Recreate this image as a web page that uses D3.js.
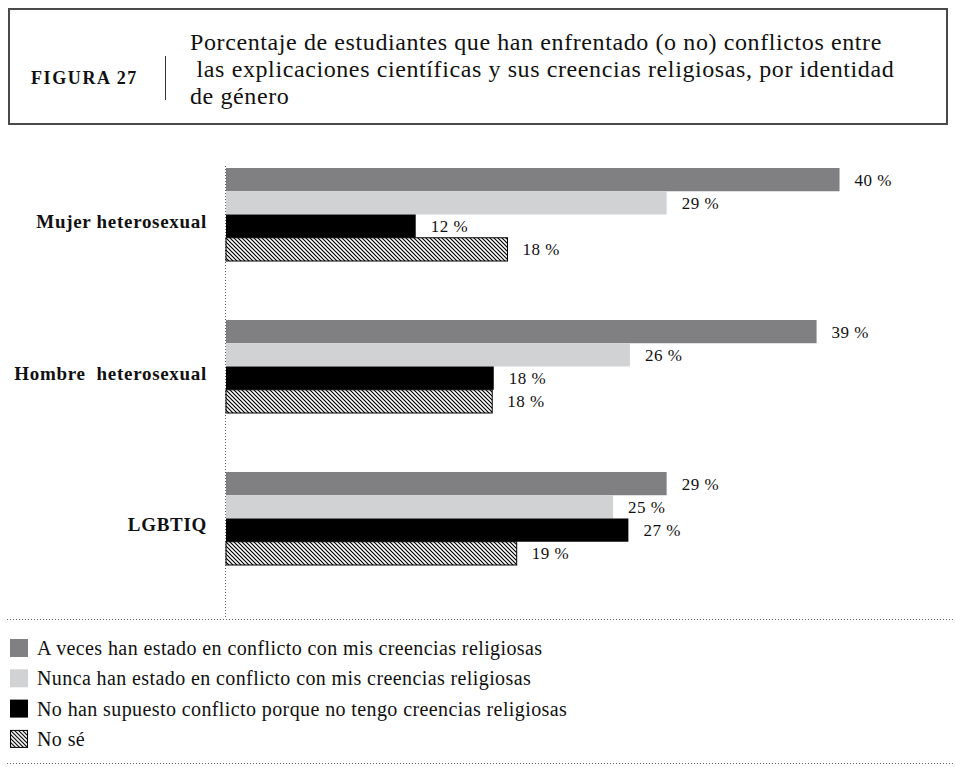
<!DOCTYPE html>
<meta charset="utf-8">
<style>
  body { margin: 0; background: #fff; }
  text { font-family: "Liberation Serif", "Times New Roman", serif; fill: #111; }
</style>
<script src="https://d3js.org/d3.v7.min.js"></script>

<div id="figura27"></div>
<script>

    // categories and series
    var groups = ["Mujer heterosexual", "Hombre  heterosexual", "LGBTIQ"];
    var series = [
      "A veces han estado en conflicto con mis creencias religiosas",
      "Nunca han estado en conflicto con mis creencias religiosas",
      "No han supuesto conflicto porque no tengo creencias religiosas",
      "No sé"
    ];

    // bar lengths (percent)
    var aVeces      = [40.1, 38.6, 28.8];
    var nunca       = [28.8, 26.4, 25.3];
    var noCreencias = [12.4, 17.5, 26.3];
    var noSe        = [18.4, 17.4, 19.0];

    // printed labels
    var aVecesTxt      = ["40 %", "39 %", "29 %"];
    var nuncaTxt       = ["29 %", "26 %", "25 %"];
    var noCreenciasTxt = ["12 %", "18 %", "27 %"];
    var noSeTxt        = ["18 %", "18 %", "19 %"];

    var xTicks = [0, 40];

    var values = [aVeces, nunca, noCreencias, noSe];
    var labels = [aVecesTxt, nuncaTxt, noCreenciasTxt, noSeTxt];
    var colors = ["#808083", "#d1d2d4", "#000000", "url(#hatch)"];

    var width = 955, height = 770;

    var svg = d3.select("#figura27")
      .append("svg")
        .attr("width", width)
        .attr("height", height);

    var defs = svg.append("defs");
    var pat = defs.append("pattern")
        .attr("id", "hatch")
        .attr("patternUnits", "userSpaceOnUse")
        .attr("width", 4)
        .attr("height", 4);
    pat.append("rect").attr("width", 4).attr("height", 4).attr("fill", "#fff");
    pat.append("path")
        .attr("d", "M0,0 L4,4 M-1,3 L1,5 M3,-1 L5,1")
        .attr("stroke", "#000")
        .attr("stroke-width", 1.2);

    // header box
    svg.append("rect")
        .attr("x", 9).attr("y", 9)
        .attr("width", 938).attr("height", 115)
        .attr("fill", "none")
        .attr("stroke", "#4a4a4a")
        .attr("stroke-width", 2);

    svg.append("text")
        .attr("x", 31).attr("y", 84)
        .attr("font-size", "18px")
        .attr("font-weight", "bold")
        .attr("letter-spacing", "1.6px")
        .text("FIGURA 27");

    svg.append("line")
        .attr("x1", 165.5).attr("x2", 165.5)
        .attr("y1", 56).attr("y2", 100)
        .attr("stroke", "#333");

    var titleLines = [
      "Porcentaje de estudiantes que han enfrentado (o no) conflictos entre",
      " las explicaciones científicas y sus creencias religiosas, por identidad",
      "de género"
    ];
    svg.append("text")
        .attr("font-size", "24px")
        .attr("letter-spacing", "0.6px")
        .style("white-space", "pre")
      .selectAll("tspan")
      .data(titleLines)
      .enter()
      .append("tspan")
        .attr("x", 190)
        .attr("y", function(d, i) { return 50 + i * 27; })
        .text(function(d) { return d; });

    // scales
    var x = d3.scaleLinear()
        .domain(xTicks)
        .range([226, 838]);

    var y0 = d3.scaleBand()
        .domain(groups)
        .range([168, 565])
        .paddingInner(0.388)
        .paddingOuter(0);

    var y1 = d3.scaleBand()
        .domain(d3.range(series.length))
        .range([0, y0.bandwidth()]);

    // dotted axis + rules
    svg.append("line")
        .attr("x1", x(0) - 0.5).attr("x2", x(0) - 0.5)
        .attr("y1", 166).attr("y2", 619)
        .attr("stroke", "#666")
        .attr("stroke-dasharray", "1,2");

    [619, 763].forEach(function(yy) {
      svg.append("line")
          .attr("x1", 7).attr("x2", 955)
          .attr("y1", yy + 0.5).attr("y2", yy + 0.5)
          .attr("stroke", "#666")
          .attr("stroke-dasharray", "1,2");
    });

    // group labels
    svg.append("g")
      .selectAll("text")
      .data(groups)
      .enter()
      .append("text")
        .attr("x", 207)
        .attr("y", function(d) { return y0(d) + y0.bandwidth() / 2 + 13; })
        .attr("text-anchor", "end")
        .attr("font-size", "19px")
        .attr("font-weight", "bold")
        .attr("letter-spacing", "0.7px")
        .style("white-space", "pre")
        .text(function(d) { return d; });

    // bars
    var rows = [];
    groups.forEach(function(g, gi) {
      series.forEach(function(s, si) {
        rows.push({ g: g, si: si, v: values[si][gi], t: labels[si][gi] });
      });
    });

    var bars = svg.append("g");
    bars.selectAll("rect")
      .data(rows)
      .enter()
      .append("rect")
        .attr("x", x(0))
        .attr("y", function(d) { return y0(d.g) + y1(d.si); })
        .attr("width", function(d) { return x(d.v) - x(0); })
        .attr("height", y1.bandwidth())
        .attr("fill", function(d) { return colors[d.si]; })
        .attr("stroke", function(d) { return d.si === 3 ? "#000" : "none"; })
        .attr("stroke-width", 1);

    bars.selectAll("text")
      .data(rows)
      .enter()
      .append("text")
        .attr("x", function(d) { return x(d.v) + 15; })
        .attr("y", function(d) { return y0(d.g) + y1(d.si) + y1.bandwidth() / 2 + 6; })
        .attr("font-size", "17px")
        .attr("letter-spacing", "0.5px")
        .text(function(d) { return d.t; });

    // legend
    var legend = svg.append("g")
      .selectAll("g")
      .data(series)
      .enter()
      .append("g")
        .attr("transform", function(d, i) { return "translate(10," + (639 + i * 30.3) + ")"; });

    legend.append("rect")
        .attr("x", function(d, i) { return i === 3 ? 0.5 : 0; })
        .attr("y", function(d, i) { return i === 3 ? 0.5 : 0; })
        .attr("width", function(d, i) { return i === 3 ? 17 : 18; })
        .attr("height", function(d, i) { return i === 3 ? 17 : 18; })
        .attr("fill", function(d, i) { return colors[i]; })
        .attr("stroke", function(d, i) { return i === 3 ? "#000" : "none"; });

    legend.append("text")
        .attr("x", 27)
        .attr("y", 16)
        .attr("font-size", "20px")
        .attr("letter-spacing", "0.4px")
        .text(function(d) { return d; });

</script>
